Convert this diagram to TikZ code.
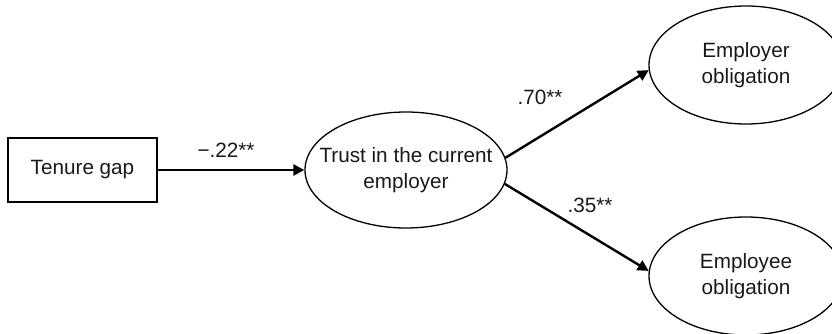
\documentclass[tikz,border=0pt]{standalone}
\usepackage{fontspec}
\setmainfont{Liberation Sans}
\usetikzlibrary{shapes.geometric,arrows.meta}
\begin{document}
\begin{tikzpicture}[x=1pt,y=-1pt,
  every node/.style={font=\fontsize{20.7}{26}\selectfont, text=black!90, inner sep=0pt, align=center},
  boxnode/.style={draw, line width=1.8pt, minimum width=149pt, minimum height=64pt},
  ellnode/.style={draw, ellipse, line width=1.3pt, minimum width=#1, minimum height=118pt},
  conn/.style={line width=2.4pt, -{Triangle[length=11pt,width=11pt]}},
  lbl/.style={}]
\clip (0,0) rectangle (832,334);
\useasboundingbox (0,0) rectangle (832,334);
\node[boxnode] (tg) at (82.5,170) {Tenure gap};
\node[ellnode=202pt, minimum height=116pt] (tr) at (406,170) {};
\node[ellnode=194pt] (er) at (746,65) {};
\node[ellnode=194pt] (ee) at (746,276) {};
\node (trt) at (tr.center) {Trust in the current\\employer};
\node (ert) at (er.center) {Employer\\obligation};
\node (eet) at (ee.center) {Employee\\obligation};
\draw[conn] (tg.east) -- (tr.west);
\draw[conn] (tr.7.5) -- (er.183);
\draw[conn] (tr.-8.6) -- (ee.177.6);
\node[lbl] (l1) at (226,150) {−.22**};
\node[lbl] (l2) at (540,97) {.70**};
\node[lbl] (l3) at (590,205) {.35**};
\end{tikzpicture}
\end{document}
